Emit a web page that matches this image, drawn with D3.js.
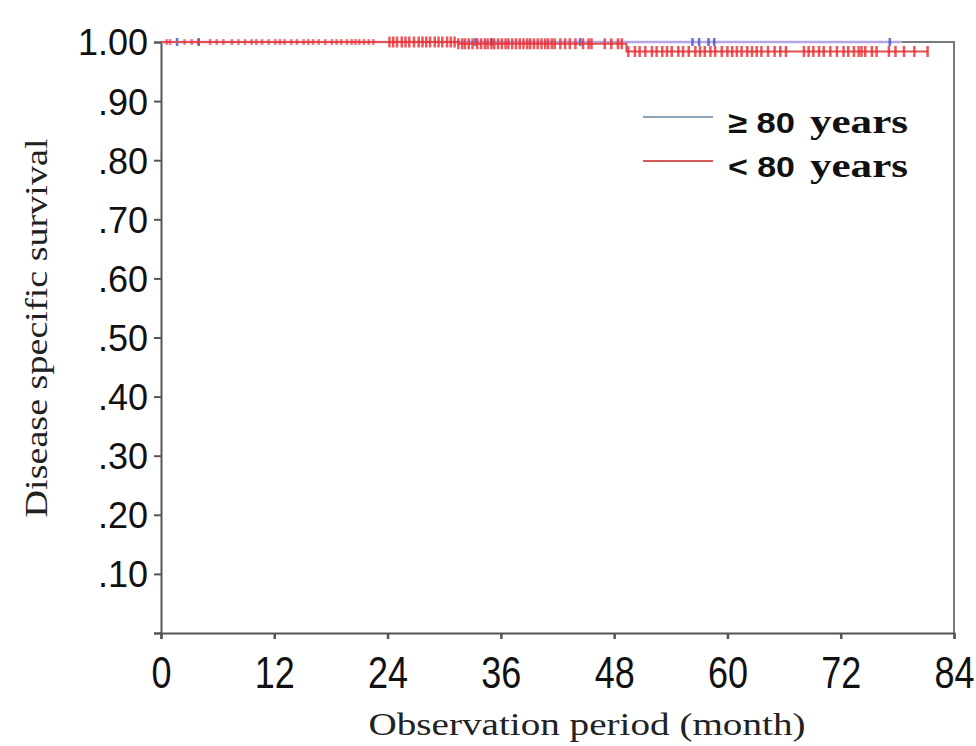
<!DOCTYPE html>
<html>
<head>
<meta charset="utf-8">
<script src="https://cdn.jsdelivr.net/npm/d3@7"></script>
<style>
  body { margin: 0; background: #fff; }
</style>
</head>
<body>
<svg id="chart"></svg>
<script>
// Kaplan-Meier, disease specific survival by age group
const xTicks = [0, 12, 24, 36, 48, 60, 72, 84];
const yTicks = [0, 0.1, 0.2, 0.3, 0.4, 0.5, 0.6, 0.7, 0.8, 0.9, 1.0];

// step points (time in months, survival)
const oldSteps = [[0, 1.0], [78.5, 1.0]];
const youngSteps = [[0, 1.0], [31.5, 0.997], [49.3, 0.984], [81.2, 0.984]];

// censoring times
const oldCensor = [1.7, 4.0, 33.3, 35.0, 44.4, 56.3, 57.0, 58.0, 58.6, 77.2];
const youngCensor = [
  0.6, 0.95, 2.5, 3.25, 3.95, 5.2, 5.9, 6.6, 7.5, 8.2, 8.9, 9.6, 10.1, 10.7,
  11.4, 12.1, 12.6, 13.1, 13.8, 14.4, 15.1, 15.6, 16.1, 16.7, 17.4, 18.1, 18.6,
  19.1, 19.7, 20.2, 20.6, 21.0, 21.5, 22.0, 22.5, 24.2, 24.6, 25.0, 25.5, 25.9,
  26.3, 26.8, 27.3, 27.7, 28.1, 28.5, 29.0, 29.4, 29.8, 30.3, 30.7, 31.1, 31.5,
  31.9, 32.2, 32.6, 33.0, 33.5, 33.9, 34.3, 34.6, 35.0, 35.3, 35.7, 36.1, 36.5,
  36.8, 37.2, 37.6, 38.0, 38.4, 38.8, 39.1, 39.5, 39.9, 40.3, 40.7, 41.0, 41.4,
  41.7, 42.3, 42.8, 43.3, 43.9, 44.7, 45.3, 45.6, 47.0, 47.7, 48.4, 48.8,
  49.5, 50.2, 50.7, 51.3, 52.0, 52.5, 53.1, 53.6, 54.1, 54.8, 55.3, 55.9, 56.6,
  57.1, 57.6, 58.2, 58.7, 59.4, 60.0, 60.5, 61.0, 61.5, 62.1, 62.6, 63.1, 63.6,
  64.3, 65.0, 65.6, 66.2, 68.1, 68.6, 69.1, 69.7, 70.2, 70.9, 71.6, 72.3, 72.8,
  73.4, 73.9, 74.2, 74.6, 75.3, 75.8, 77.1, 77.8, 78.7, 79.8, 81.2
];

const legendLabels = ["≥ 80", "< 80"];

const width = 976;
const height = 746;

const x = d3.scaleLinear().domain([0, 84]).range([161, 954]);
const y = d3.scaleLinear().domain([0, 1]).range([633, 42]);

const svg = d3.select("#chart").attr("width", width).attr("height", height);

// frame (top and right)
svg.append("path")
  .attr("d", `M${x(0)},${y(1)}H${x(84)}V${y(0)}`)
  .attr("fill", "none")
  .attr("stroke", "#7a7a7a")
  .attr("stroke-width", 2);

// y axis
const yAxis = svg.append("g")
  .attr("transform", `translate(${x(0)},0)`)
  .call(d3.axisLeft(y).tickValues(yTicks).tickSize(7).tickPadding(6)
    .tickFormat(d => d === 0 ? "" : d === 1 ? "1.00" : "." + d3.format(".2f")(d).slice(2)));
yAxis.select(".domain").attr("stroke", "#555").attr("stroke-width", 2);
yAxis.selectAll(".tick line").attr("stroke", "#555").attr("stroke-width", 2);
yAxis.selectAll(".tick text")
  .attr("fill", "#111")
  .style("font-family", "'Liberation Sans', Arial, sans-serif")
  .style("font-size", "36px")
  .attr("dy", "0.36em");

// x axis
const xAxis = svg.append("g")
  .attr("transform", `translate(0,${y(0)})`)
  .call(d3.axisBottom(x).tickValues(xTicks).tickSize(6).tickPadding(0));
xAxis.select(".domain").attr("stroke", "#555").attr("stroke-width", 2);
xAxis.selectAll(".tick line").attr("stroke", "#555").attr("stroke-width", 2.5);
xAxis.selectAll(".tick text")
  .attr("fill", "#111")
  .attr("y", 0)
  .attr("dy", 0)
  .attr("transform", "translate(0,55) scale(1,1.22)")
  .style("font-family", "'Liberation Sans', Arial, sans-serif")
  .style("font-size", "36px");

// axis titles
svg.append("text")
  .attr("x", 587)
  .attr("y", 735)
  .attr("text-anchor", "middle")
  .attr("textLength", 437)
  .attr("lengthAdjust", "spacingAndGlyphs")
  .style("font-family", "'Liberation Serif', 'DejaVu Serif', serif")
  .style("font-size", "31px")
  .attr("fill", "#222")
  .text("Observation period (month)");

svg.append("text")
  .attr("transform", "translate(47,328) rotate(-90)")
  .attr("text-anchor", "middle")
  .attr("textLength", 379)
  .attr("lengthAdjust", "spacingAndGlyphs")
  .style("font-family", "'Liberation Serif', 'DejaVu Serif', serif")
  .style("font-size", "32px")
  .attr("fill", "#222")
  .text("Disease specific survival");

// survival curves
const line = d3.line()
  .x(d => x(d[0]))
  .y(d => y(d[1]))
  .curve(d3.curveStepAfter);

const survAt = (steps, t) => {
  let s = steps[0][1];
  for (const [tt, ss] of steps) if (tt <= t) s = ss;
  return s;
};

svg.append("path")
  .datum(oldSteps)
  .attr("d", line)
  .attr("fill", "none")
  .attr("stroke", "#b4a6e4")
  .attr("stroke-width", 2.5);

svg.append("g")
  .selectAll("line")
  .data(oldCensor)
  .join("line")
  .attr("x1", d => x(d))
  .attr("x2", d => x(d))
  .attr("y1", d => y(survAt(oldSteps, d)) - 4)
  .attr("y2", d => y(survAt(oldSteps, d)) + 4)
  .attr("stroke", "#4050c8")
  .attr("stroke-opacity", 0.8)
  .attr("stroke-width", 2.5);

svg.append("path")
  .datum(youngSteps)
  .attr("d", line)
  .attr("fill", "none")
  .attr("stroke", "#e45050")
  .attr("stroke-width", 2);

svg.append("g")
  .selectAll("line")
  .data(youngCensor)
  .join("line")
  .attr("x1", d => x(d))
  .attr("x2", d => x(d))
  .attr("y1", d => y(survAt(youngSteps, d)) - (d < 23 ? 3 : 5.5))
  .attr("y2", d => y(survAt(youngSteps, d)) + (d < 23 ? 3 : 5.5))
  .attr("stroke", "#ec2a30")
  .attr("stroke-opacity", d => d < 23 ? 0.6 : 0.8)
  .attr("stroke-width", 2.5);

// legend
const legendColors = ["#8ea4b6", "#d25a5a"];
const legend = svg.append("g")
  .selectAll("g")
  .data(legendLabels)
  .join("g")
  .attr("transform", (d, i) => `translate(643,${117 + i * 44})`);

legend.append("line")
  .attr("x1", 0)
  .attr("x2", 70)
  .attr("stroke", (d, i) => legendColors[i])
  .attr("stroke-width", 2);

legend.append("text")
  .attr("x", 85)
  .attr("y", 16)
  .attr("textLength", 67)
  .attr("lengthAdjust", "spacingAndGlyphs")
  .style("font-family", "'Liberation Sans', Arial, sans-serif")
  .style("font-weight", "bold")
  .style("font-size", "30px")
  .attr("fill", "#111")
  .text(d => d);

legend.append("text")
  .attr("x", 167)
  .attr("y", 16)
  .attr("textLength", 98)
  .attr("lengthAdjust", "spacingAndGlyphs")
  .style("font-family", "'Liberation Serif', 'DejaVu Serif', serif")
  .style("font-weight", "bold")
  .style("font-size", "33px")
  .attr("fill", "#111")
  .text("years");
</script>
</body>
</html>
